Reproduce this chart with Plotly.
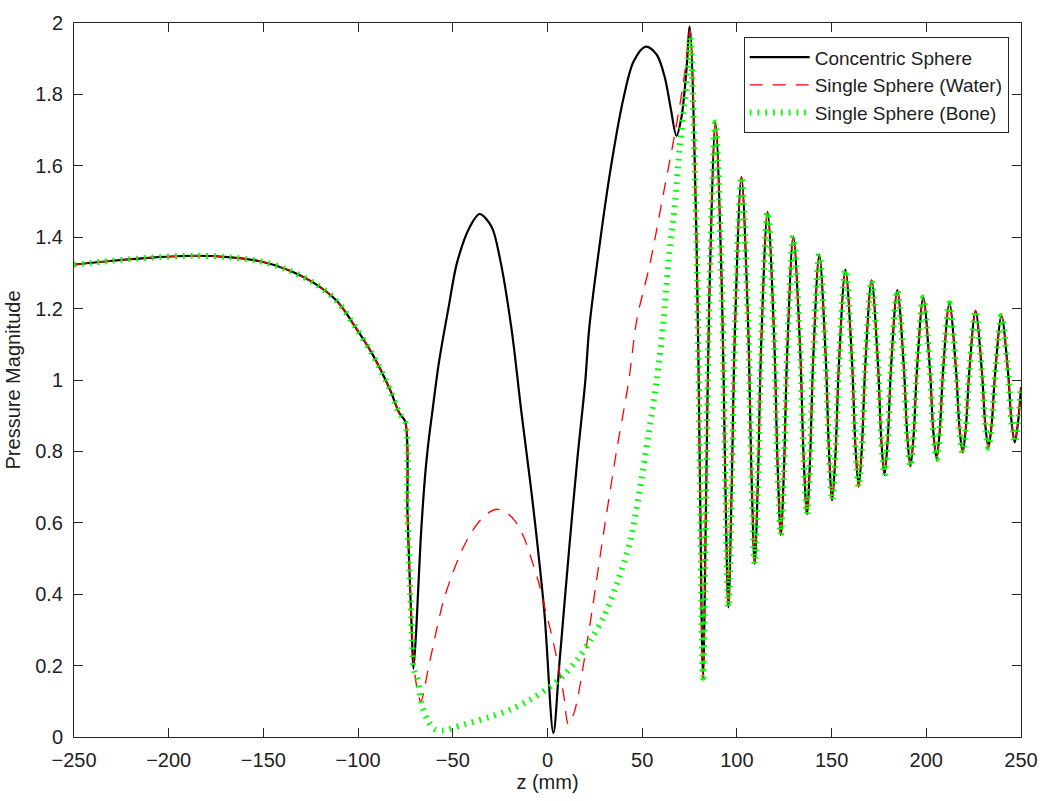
import plotly.graph_objects as go

# ---- Data (z in mm, pressure magnitude) ----
# Common left part (all three models coincide up to the kink near z = -75)
common_z = [-250, -229.6, -208.7, -186.1, -168.6, -151.2, -137.3, -123.4,
            -111.2, -100.8, -92.1, -83.4, -78.1, -75.1]
common_v = [1.323, 1.334, 1.343, 1.348, 1.344, 1.332, 1.309, 1.272,
            1.221, 1.143, 1.069, 0.976, 0.906, 0.883]

# Concentric sphere, middle part
conc_z = [-73.9, -72.7, -71.6, -70.8, -69.3, -67.0, -64.5, -62.6, -60.8, -57.3,
          -52.1, -47.8, -40.9, -35.9, -29.6, -25.1, -19.0, -13.8, -9.4, -6.8,
          -1.6, 3.1, 6.3, 11.5, 15.8, 19.9, 22.0, 26.3, 33.2, 40.2, 45.5, 51.9,
          57.7, 62.0, 65.0, 68.1, 70.7, 73.3, 75.1]
conc_v = [0.624, 0.439, 0.291, 0.191, 0.300, 0.550, 0.740, 0.837, 0.911, 1.050,
          1.207, 1.328, 1.430, 1.465, 1.430, 1.340, 1.143, 0.911, 0.726, 0.610,
          0.346, 0.011, 0.207, 0.531, 0.781, 0.994, 1.143, 1.330, 1.587, 1.791, 1.893, 1.934,
          1.911, 1.846, 1.763, 1.684, 1.735, 1.865, 1.990]

# Single sphere (water), middle part
water_z = [-73.9, -72.7, -71.5, -70.5, -69.0, -66.9, -63.0, -59.0, -55.0, -50.0,
           -45.0, -40.0, -35.0, -30.0, -26.9, -22.0, -17.3, -12.5, -8.6, -4.5,
           -1.6, 2.0, 5.4, 8.5, 11.0, 14.1, 21.1, 29.8, 36.7, 42.8, 47.2, 54.2,
           61.2, 67.2, 71.6, 74.2, 75.3]
water_v = [0.620, 0.440, 0.290, 0.200, 0.140, 0.100, 0.190, 0.290, 0.380, 0.460,
           0.525, 0.575, 0.610, 0.632, 0.638, 0.630, 0.606, 0.560, 0.500, 0.430,
           0.365, 0.290, 0.207, 0.120, 0.036, 0.069, 0.272, 0.578, 0.809, 0.994, 1.170, 1.328,
           1.522, 1.689, 1.828, 1.939, 1.980]

# Single sphere (bone), middle part
bone_z = [-73.9, -72.7, -71.6, -70.6, -68.6, -66.1, -63.0, -59.5, -55.0, -50.4,
          -43.4, -31.2, -19.0, -8.6, 1.9, 8.9, 15.8, 22.8, 29.8, 36.7, 43.7,
          48.0, 53.3, 57.7, 61.2, 63.8, 67.3, 69.8, 72.5, 74.2, 75.3]
bone_v = [0.620, 0.440, 0.290, 0.190, 0.160, 0.087, 0.045, 0.022, 0.018, 0.025,
          0.036, 0.055, 0.078, 0.106, 0.143, 0.175, 0.217, 0.272, 0.337, 0.430, 0.550,
          0.670, 0.846, 1.000, 1.161, 1.328, 1.494, 1.652, 1.781, 1.874, 1.960]

# Common oscillating right part (all three models coincide)
tail_z = [78.6, 80.35, 82.1, 83.75, 85.4, 88.7, 92.1, 93.8, 95.5, 97.2, 98.95,
          102.4, 105.9, 107.65, 109.4, 111.1, 112.8, 116.2, 119.7, 121.45, 123.2,
          124.85, 126.5, 129.8, 133.4, 135.2, 137.0, 138.6, 140.25, 143.5, 146.9,
          148.6, 150.3, 152.05, 153.8, 157.3, 160.8, 162.55, 164.3, 166.0, 167.7,
          171.1, 174.5, 176.2, 177.9, 179.6, 181.3, 184.7, 188.15, 189.9, 191.6,
          193.3, 195.0, 198.4, 201.9, 203.65, 205.4, 207.1, 208.8, 212.2, 215.7,
          217.45, 219.2, 220.9, 222.6, 226.0, 229.4, 231.1, 232.8, 234.5, 236.25,
          239.7, 243.2, 244.95, 246.7, 248.4, 250.0]
tail_v = [1.412, 0.777, 0.166, 0.677, 1.223, 1.721, 1.244, 0.739, 0.363, 0.688, 1.139,
          1.569, 1.161, 0.749, 0.485, 0.719, 1.095, 1.471, 1.115, 0.768, 0.566,
          0.750, 1.069, 1.402, 1.085, 0.787, 0.624, 0.774, 1.053, 1.351, 1.064,
          0.802, 0.663, 0.791, 1.037, 1.309, 1.050, 0.818, 0.701, 0.812, 1.032,
          1.279, 1.043, 0.836, 0.733, 0.830, 1.027, 1.252, 1.035, 0.849, 0.758,
          0.844, 1.023, 1.231, 1.030, 0.860, 0.779, 0.857, 1.021, 1.215, 1.028,
          0.871, 0.797, 0.867, 1.016, 1.194, 1.021, 0.877, 0.811, 0.875, 1.013,
          1.180, 1.019, 0.886, 0.825, 0.880, 0.980]

series_names = ["Concentric Sphere", "Single Sphere (Water)", "Single Sphere (Bone)"]

x_ticks = [-250, -200, -150, -100, -50, 0, 50, 100, 150, 200, 250]
y_ticks = [0, 0.2, 0.4, 0.6, 0.8, 1, 1.2, 1.4, 1.6, 1.8, 2]

FONT = "Liberation Sans, Arial, Helvetica, sans-serif"
AX = "#262626"
TXT = "#222222"

fig = go.Figure()
fig.add_trace(go.Scatter(
    x=common_z + conc_z + tail_z, y=common_v + conc_v + tail_v,
    mode="lines", name=series_names[0],
    line=dict(color="black", width=2.2, shape="spline", smoothing=0.9)))
fig.add_trace(go.Scatter(
    x=common_z + water_z + tail_z, y=common_v + water_v + tail_v,
    mode="lines", name=series_names[1],
    line=dict(color="#ff0000", width=1.3, dash="13px,10px", shape="spline", smoothing=0.9)))
fig.add_trace(go.Scatter(
    x=common_z + bone_z + tail_z, y=common_v + bone_v + tail_v,
    mode="lines", name=series_names[2],
    line=dict(color="#00ff00", width=6, dash="1.8px,6px", shape="spline", smoothing=0.9)))

axis_common = dict(showline=True, linecolor=AX, linewidth=1, mirror="ticks",
                   ticks="inside", ticklen=9, tickcolor=AX, tickwidth=1,
                   showgrid=False, zeroline=False,
                   tickfont=dict(family=FONT, size=20, color=TXT))

fig.update_layout(
    width=1050, height=801,
    margin=dict(l=72, r=22, t=18, b=63),
    paper_bgcolor="white", plot_bgcolor="white",
    font=dict(family=FONT, size=20, color=TXT),
    xaxis=dict(range=[-250, 250], tickvals=x_ticks, ticklabelstandoff=5,
               title=dict(text="z (mm)", font=dict(family=FONT, size=20, color=TXT), standoff=4),
               **axis_common),
    yaxis=dict(range=[0, 2], tickvals=y_ticks, ticklabelstandoff=6,
               title=dict(text="Pressure Magnitude", font=dict(family=FONT, size=20, color=TXT), standoff=9),
               **axis_common),
    legend=dict(x=0.987, y=0.98, xanchor="right", yanchor="top",
                bgcolor="white", bordercolor=AX, borderwidth=1,
                font=dict(family=FONT, size=19, color=TXT),
                itemwidth=60, tracegroupgap=0, entrywidth=210),
    showlegend=True,
)

fig.write_html("out.html", config={"displayModeBar": False},
               post_script="document.body.style.margin='0';")
